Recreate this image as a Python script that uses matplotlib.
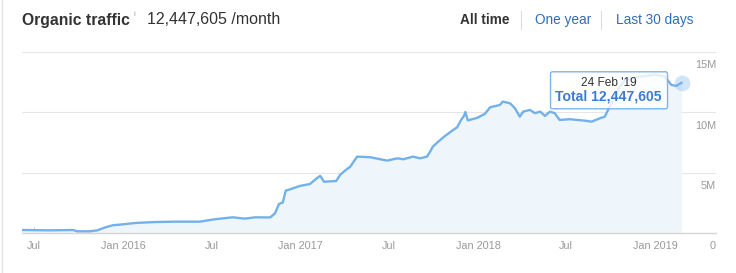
import numpy as np
import matplotlib
matplotlib.use('Agg')
import matplotlib.pyplot as plt
import matplotlib.dates as mdates
import matplotlib.transforms as mtransforms
from matplotlib.patches import FancyBboxPatch
from matplotlib.lines import Line2D

plt.rcParams['font.family'] = ['Liberation Sans', 'DejaVu Sans']

#######################################################################
# Data (organic traffic, millions of visits / month)

dates = ['2015-06-07', '2015-08-04', '2015-09-20', '2015-09-29', '2015-10-25',
         '2015-11-09', '2015-11-25', '2015-12-11', '2016-01-01', '2016-01-26',
         '2016-03-07', '2016-04-17', '2016-06-07', '2016-07-08', '2016-08-14',
         '2016-09-08', '2016-09-29', '2016-10-30', '2016-11-09', '2016-11-17',
         '2016-11-25', '2016-12-01', '2016-12-10', '2016-12-30', '2017-01-20',
         '2017-02-03', '2017-02-10', '2017-02-18', '2017-03-15', '2017-03-23',
         '2017-04-02', '2017-04-13', '2017-04-27', '2017-05-24', '2017-06-28',
         '2017-07-19', '2017-07-31', '2017-08-20', '2017-09-04', '2017-09-18',
         '2017-09-24', '2017-09-30', '2017-10-11', '2017-10-25', '2017-11-08',
         '2017-11-19', '2017-11-27', '2017-12-03', '2017-12-06', '2017-12-11',
         '2017-12-30', '2018-01-15', '2018-01-26', '2018-02-15', '2018-02-21',
         '2018-03-08', '2018-03-18', '2018-03-28', '2018-04-04', '2018-04-18',
         '2018-04-28', '2018-05-09', '2018-05-19', '2018-05-29', '2018-06-08',
         '2018-06-18', '2018-07-09', '2018-08-09', '2018-08-23', '2018-09-09',
         '2018-09-19', '2018-09-29', '2018-10-10', '2018-10-20', '2018-10-31',
         '2018-12-01', '2019-01-01', '2019-01-21', '2019-02-03', '2019-02-13',
         '2019-02-24']

traffic_m = [0.25, 0.22, 0.25, 0.14, 0.14,
             0.22, 0.46, 0.64, 0.72, 0.83,
             0.91, 0.94, 0.94, 1.14, 1.30,
             1.19, 1.30, 1.29, 1.63, 2.40,
             2.53, 3.51, 3.62, 3.90, 4.06,
             4.54, 4.73, 4.25, 4.31, 4.81,
             5.17, 5.50, 6.33, 6.28, 6.00,
             6.19, 6.11, 6.33, 6.19, 6.33,
             6.72, 7.16, 7.57, 8.04, 8.46,
             8.76, 9.37, 9.70, 10.03, 9.33,
             9.54, 9.87, 10.42, 10.61, 10.89,
             10.75, 10.34, 9.64, 10.06, 10.20,
             9.93, 10.06, 9.70, 10.06, 9.93,
             9.37, 9.43, 9.31, 9.23, 9.51,
             9.64, 10.47, 11.30, 12.13, 12.69,
             12.96, 13.14, 12.96, 12.27, 12.19,
             12.447605]

x_ticks = ['2015-07-01', '2016-01-01', '2016-07-01', '2017-01-01',
           '2017-07-01', '2018-01-01', '2018-07-01', '2019-01-01']
x_tick_labels = ['Jul', 'Jan 2016', 'Jul', 'Jan 2017',
                 'Jul', 'Jan 2018', 'Jul', 'Jan 2019']
y_ticks = [0, 5, 10, 15]
y_tick_labels = ['0', '5M', '10M', '15M']

total_traffic = 12447605
tooltip_date = "24 Feb '19"

#######################################################################
# Figure / axes

fig = plt.figure(figsize=(7.36, 2.73), dpi=100)
ax = fig.add_axes([22/736, 40/273, 694/736, 181/273])

x = np.array(dates, dtype='datetime64[D]')
ax.fill_between(x, traffic_m, 0, color='#eef6fb', lw=0, zorder=1)
ax.plot(x, traffic_m, color='#72b1e9', lw=1.7, solid_joinstyle='round', zorder=3)

ax.set_xlim(x[0], np.datetime64('2019-05-06'))
ax.set_ylim(0, 15)

# grid
ax.set_yticks(y_ticks)
ax.yaxis.grid(True, color='#e6e6e6', lw=0.8)
ax.set_axisbelow(True)
ax.tick_params(axis='y', length=0, labelleft=False)
for s in ['top', 'right', 'left']:
    ax.spines[s].set_visible(False)
ax.spines['bottom'].set_color('#d6d6d6')
ax.spines['bottom'].set_linewidth(1.0)

# x ticks
ax.set_xticks(np.array(x_ticks, dtype='datetime64[D]'))
ax.set_xticklabels(x_tick_labels)
ax.tick_params(axis='x', direction='in', length=4.5, width=0.8, color='#cccccc',
               labelcolor='#999999', labelsize=7.8, pad=6)

# y labels, right side, just under each gridline
for v, lab in zip(y_ticks, y_tick_labels):
    ax.annotate(lab, xy=(1, v), xycoords=ax.get_yaxis_transform(),
                xytext=(0, -9.6), textcoords='offset points',
                ha='right', va='center', color='#999999', fontsize=7.8,
                annotation_clip=False)

#######################################################################
# Hover marker + tooltip

ax.scatter([x[-1]], [traffic_m[-1]], s=130, color='#7cb5ec', alpha=0.35,
           lw=0, zorder=5, clip_on=False)

fig.canvas.draw()
px, py = ax.transData.transform((mdates.date2num(x[-1]), traffic_m[-1]))
ident = mtransforms.IdentityTransform()
box = FancyBboxPatch((px - 131, py - 26), 117, 37,
                     boxstyle='round,pad=0,rounding_size=2',
                     transform=ident, facecolor=(1, 1, 1, 0.8),
                     edgecolor='#7cb5ec', lw=1.0, zorder=6)
fig.add_artist(box)
fig.text(px - 73, py - 0.5, tooltip_date, transform=ident, ha='center', va='center',
         fontsize=8.6, color='#333333', zorder=7)
fig.text(px - 73, py - 14, 'Total {:,}'.format(total_traffic), transform=ident,
         ha='center', va='center', fontsize=10.1, fontweight='bold',
         color='#3d7bd0', zorder=7)

#######################################################################
# Header

fig.text(22/736, 1 - 20/273, 'Organic traffic', ha='left', va='center',
         fontsize=11.3, fontweight='bold', color='#333333')
fig.text(134/736, 1 - 15/273, 'i', ha='left', va='center',
         fontsize=6, color='#aaaaaa')
fig.text(147/736, 1 - 20/273, '{:,} /month'.format(total_traffic), ha='left',
         va='center', fontsize=11.5, color='#333333')

fig.text(460/736, 1 - 20/273, 'All time', ha='left', va='center',
         fontsize=9.8, fontweight='bold', color='#333333')
fig.text(535/736, 1 - 20/273, 'One year', ha='left', va='center',
         fontsize=9.8, color='#2e6db8')
fig.text(616/736, 1 - 20/273, 'Last 30 days', ha='left', va='center',
         fontsize=9.8, color='#2e6db8')
for sx in [521, 601]:
    fig.add_artist(Line2D([sx/736, sx/736], [1 - 11/273, 1 - 29/273],
                          color='#dddddd', lw=0.8))

# left card border
fig.add_artist(Line2D([1.5/736, 1.5/736], [0, 1], color='#e2e2e2', lw=1.0))

plt.savefig('out.png', dpi=100)
plt.close(fig)
